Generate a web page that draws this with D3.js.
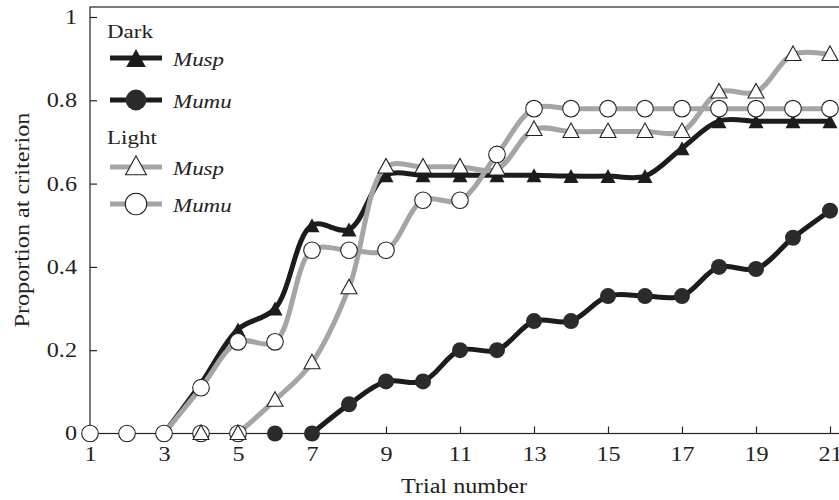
<!DOCTYPE html>
<html>
<head>
<meta charset="utf-8">
<script src="https://cdn.jsdelivr.net/npm/d3@7"></script>
<style>
  body { margin: 0; background: #fff; }
  svg text { font-family: "Liberation Serif", "DejaVu Serif", serif; fill: #222; }
</style>
</head>
<body>
<div id="vis-holder"></div>
<script>
// trials on x axis
const trials = d3.range(1, 22);
const xTicks = [1, 3, 5, 7, 9, 11, 13, 15, 17, 19, 21];
const yTicks = [0, 0.2, 0.4, 0.6, 0.8, 1];

// proportion at criterion per trial (null = not plotted)
const darkMusp = [0, 0, 0, 0.12, 0.25, 0.30, 0.50, 0.49, 0.62, 0.62, 0.62, 0.62, 0.62, 0.618, 0.618, 0.618, 0.685, 0.75, 0.75, 0.75, 0.75];
const darkMumu = [0, 0, 0, 0, 0, 0, 0, 0.07, 0.125, 0.125, 0.20, 0.20, 0.27, 0.27, 0.33, 0.33, 0.33, 0.40, 0.395, 0.47, 0.535];
const lightMusp = [0, 0, 0, 0, 0, 0.08, 0.17, 0.35, 0.64, 0.64, 0.64, 0.635, 0.73, 0.725, 0.725, 0.725, 0.725, 0.82, 0.82, 0.91, 0.91];
const lightMumu = [0, 0, 0, 0.11, 0.22, 0.22, 0.44, 0.44, 0.44, 0.56, 0.56, 0.67, 0.78, 0.78, 0.78, 0.78, 0.78, 0.78, 0.78, 0.78, 0.78];
// extra open circles sitting on the baseline
const baselineCircles = [4, 5];

const width = 839, height = 500;
const margin = { top: 17, right: 9, bottom: 66.5, left: 90 };

const black = "#1c1c1c", grey = "#a5a5a5";
const stretch = 1.21; // the source serif is wider than Liberation Serif

const series = [
  { name: "Musp", group: "Dark", values: darkMusp, lineFrom: 3, markFrom: 5, color: black, marker: "triFill" },
  { name: "Mumu", group: "Dark", values: darkMumu, lineFrom: 7, markFrom: 6, color: black, marker: "dotFill" },
  { name: "Musp", group: "Light", values: lightMusp, lineFrom: 5, markFrom: 4, color: grey, marker: "triOpen" },
  { name: "Mumu", group: "Light", values: lightMumu, lineFrom: 3, markFrom: 1, color: grey, marker: "dotOpen" }
];

const svg = d3.select("#vis-holder")
  .append("svg")
  .attr("width", width)
  .attr("height", height);

let x = d3.scaleLinear()
  .domain([1, 21])
  .range([margin.left, 830]);

let y = d3.scaleLinear()
  .domain([0, 1])
  .range([height - margin.bottom, margin.top]);

// frame (right side falls off the picture)
svg.append("rect")
  .attr("x", margin.left)
  .attr("y", 7)
  .attr("width", 800)
  .attr("height", y(0) - 7)
  .attr("fill", "none")
  .attr("stroke", "#222")
  .attr("stroke-width", 1.2);

svg.append("g")
  .attr("transform", `translate(0, ${y(0)})`)
  .call(d3.axisBottom(x).tickValues(xTicks).tickSizeInner(-7).tickSizeOuter(0).tickPadding(13).tickFormat(d3.format("d")))
  .call(g => g.select(".domain").remove())
  .call(g => g.selectAll("line").attr("stroke", "#222").attr("stroke-width", 1.2))
  .call(g => g.selectAll("text").attr("font-size", "20px").attr("font-family", null));

svg.append("g")
  .attr("transform", `translate(${margin.left}, 0)`)
  .call(d3.axisLeft(y).tickValues(yTicks).tickSizeInner(-7).tickSizeOuter(0).tickPadding(13).tickFormat(d => d === 0 ? "0" : d === 1 ? "1" : d3.format(".1f")(d)))
  .call(g => g.select(".domain").remove())
  .call(g => g.selectAll("line").attr("stroke", "#222").attr("stroke-width", 1.2))
  .call(g => g.selectAll("text").attr("font-size", "20px").attr("font-family", null));

svg.append("text")
  .attr("x", 464)
  .attr("y", 493)
  .attr("text-anchor", "middle")
  .attr("font-size", "20px")
  .text("Trial number");

svg.append("text")
  .attr("transform", "translate(29, 220) rotate(-90)")
  .attr("text-anchor", "middle")
  .attr("font-size", "20px")
  .text("Proportion at criterion");

const line = d3.line()
  .x(d => x(d.t))
  .y(d => y(d.v))
  .curve(d3.curveCatmullRom.alpha(0.5));

function triPath(w, up, down) {
  return `M0,${-up}L${w / 2},${down}L${-w / 2},${down}Z`;
}

function drawMarker(g, type, scale) {
  const s = scale || 1;
  if (type === "triFill") {
    g.append("path").attr("d", triPath(15 * s, 7 * s, 7 * s)).attr("fill", black);
  } else if (type === "triOpen") {
    g.append("path").attr("d", triPath(16 * s, 8.5 * s, 6 * s)).attr("fill", "#fff").attr("stroke", "#222").attr("stroke-width", 1.1);
  } else if (type === "dotFill") {
    g.append("circle").attr("r", 8 * s).attr("fill", "#2b2b2b");
  } else {
    g.append("circle").attr("r", 8.3 * s).attr("fill", "#fff").attr("stroke", "#222").attr("stroke-width", 1.1);
  }
}

const plot = svg.append("g");

series.forEach(s => {
  const pts = trials.map((t, i) => ({ t: t, v: s.values[i] })).filter(d => d.v != null);
  const g = plot.append("g");
  g.append("path")
    .datum(pts.filter(d => d.t >= s.lineFrom))
    .attr("d", line)
    .attr("fill", "none")
    .attr("stroke", s.color)
    .attr("stroke-width", 5)
    .attr("stroke-linejoin", "round");
  pts.filter(d => d.t >= s.markFrom).forEach(d => {
    const m = g.append("g").attr("transform", `translate(${x(d.t)}, ${y(d.v)})`);
    drawMarker(m, s.marker);
  });
  if (s.marker === "triOpen") {
    baselineCircles.forEach(t => {
      const m = g.insert("g", "g").attr("transform", `translate(${x(t)}, ${y(0)})`);
      drawMarker(m, "dotOpen");
    });
  }
});

// legend
const legend = svg.append("g");
const rows = [
  { label: "Dark", y: 38, header: true },
  { s: series[0], y: 58 },
  { s: series[1], y: 100 },
  { label: "Light", y: 144, header: true },
  { s: series[2], y: 167 },
  { s: series[3], y: 204 }
];
rows.forEach(r => {
  if (r.header) {
    legend.append("text").attr("x", 107).attr("y", r.y).attr("font-size", "19px").text(r.label);
    return;
  }
  legend.append("line")
    .attr("x1", 110).attr("x2", 162)
    .attr("y1", r.y).attr("y2", r.y)
    .attr("stroke", r.s.color)
    .attr("stroke-width", 5);
  const m = legend.append("g").attr("transform", `translate(136, ${r.y})`);
  drawMarker(m, r.s.marker, 1.3);
  legend.append("text")
    .attr("x", 173).attr("y", r.y + 8)
    .attr("font-size", "19px")
    .attr("font-style", "italic")
    .text(r.s.name);
});

// widen every label a little, keeping its anchor point where it is
svg.selectAll("text").each(function () {
  const t = d3.select(this);
  const x0 = +t.attr("x") || 0;
  t.attr("x", x0 / stretch)
    .attr("transform", (t.attr("transform") || "") + ` scale(${stretch},1)`);
});
</script>
</body>
</html>
